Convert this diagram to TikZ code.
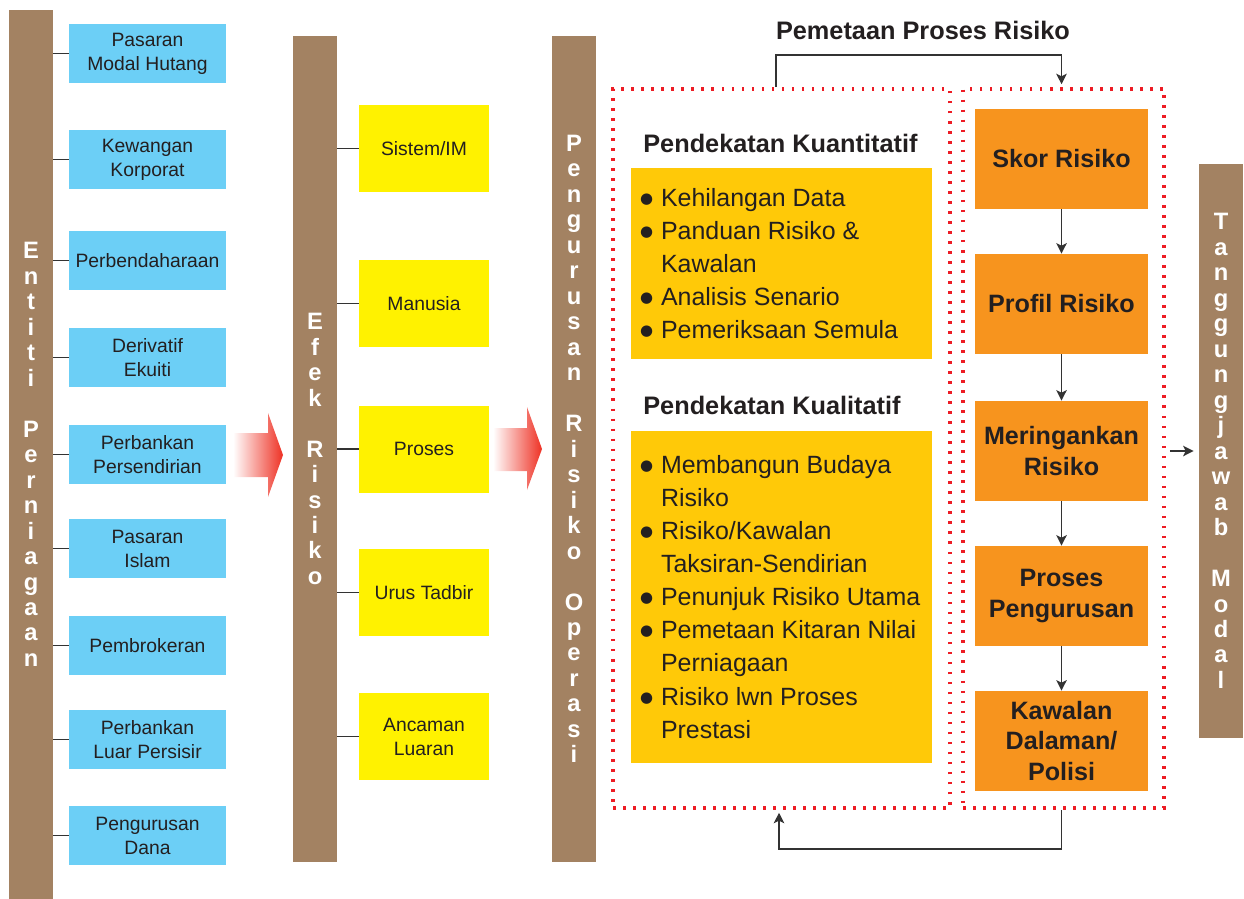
\documentclass[tikz,border=0pt]{standalone}
\usepackage{fontspec}
\setmainfont{Liberation Sans}
\newfontfamily\dotfont{DejaVu Sans}
\usetikzlibrary{calc,arrows.meta}

\definecolor{barbrown}{RGB}{163,130,98}
\definecolor{skyblue}{RGB}{108,207,246}
\definecolor{effyellow}{RGB}{255,242,0}
\definecolor{goldbox}{RGB}{255,201,8}
\definecolor{maporange}{RGB}{247,148,30}
\definecolor{dotred}{RGB}{237,28,36}
\definecolor{arrowred}{RGB}{238,49,36}
\definecolor{inkdark}{RGB}{35,31,32}
\definecolor{linegray}{RGB}{51,51,51}

\newlength{\pxu}\setlength{\pxu}{0.02cm}
\newcommand{\itembul}{\makebox[21\pxu][l]{\raisebox{1.7pt}{\dotfont\fontsize{8.5}{8.5}\selectfont ●}}}
\newcommand{\itemcont}{\hspace*{21\pxu}}

\begin{document}
\begin{tikzpicture}[
  x=\pxu, y=-\pxu,
  every node/.style={inner sep=0pt, text=inkdark},
  pillar/.style={fill=barbrown, minimum width=44\pxu, align=center, text=white,
    font=\fontsize{13.5}{14.5}\selectfont\bfseries},
  unitbox/.style={fill=skyblue, minimum width=157\pxu, minimum height=59\pxu, align=center,
    font=\fontsize{11}{13.6}\selectfont},
  effbox/.style={fill=effyellow, minimum width=130\pxu, minimum height=87\pxu, align=center,
    font=\fontsize{11}{13.6}\selectfont},
  approach/.style={fill=goldbox, minimum width=301\pxu},
  listtext/.style={align=left, font=\fontsize{14.2}{18.8}\selectfont},
  mapbox/.style={fill=maporange, minimum width=173\pxu, minimum height=100\pxu, align=center,
    font=\fontsize{14.3}{17.1}\selectfont\bfseries},
  dotframe/.style={draw=dotred, line width=2pt, dash pattern=on 1.5pt off 4.2pt},
  heading/.style={font=\fontsize{14.4}{17}\selectfont\bfseries},
  tick/.style={draw=linegray, line width=0.6pt},
  flow/.style={draw=linegray, line width=0.8pt, -{Stealth[length=6pt,width=6pt,inset=1.5pt]}}
]
\useasboundingbox (0,0) rectangle (1244,899);

% brown pillars
\node[pillar, minimum height=889\pxu] (entiti) at (31,454.5)
  {E\\n\\t\\i\\t\\i\\[14.5pt]P\\e\\r\\n\\i\\a\\g\\a\\a\\n};
\node[pillar, minimum height=826\pxu] (efek) at (315,449)
  {E\\f\\e\\k\\[14.5pt]R\\i\\s\\i\\k\\o};
\node[pillar, minimum height=826\pxu] (urus) at (574,449)
  {P\\e\\n\\g\\u\\r\\u\\s\\a\\n\\[14.5pt]R\\i\\s\\i\\k\\o\\[14.5pt]O\\p\\e\\r\\a\\s\\i};
\node[pillar, minimum height=574\pxu] (tang) at (1221,451)
  {T\\a\\n\\g\\g\\u\\n\\g\\j\\a\\w\\a\\b\\[14.5pt]M\\o\\d\\a\\l};

% business units
\foreach \yy/\txt [count=\i] in {53.5/{Pasaran\\Modal Hutang}, 159.5/{Kewangan\\Korporat},
    260.5/Perbendaharaan, 357.5/{Derivatif\\Ekuiti}, 454.5/{Perbankan\\Persendirian},
    548.5/{Pasaran\\Islam}, 645.5/Pembrokeran, 739.5/{Perbankan\\Luar Persisir},
    835.5/{Pengurusan\\Dana}}
{
  \node[unitbox] (unit\i) at (147.5,\yy) {\txt};
  \draw[tick] (entiti.east |- unit\i) -- (unit\i.west);
}

% risk effects
\foreach \yy/\txt [count=\i] in {148.5/{Sistem/IM}, 303.5/Manusia, 449/Proses,
    592.5/Urus Tadbir, 736.5/{Ancaman\\Luaran}}
{
  \node[effbox] (eff\i) at (424,\yy) {\txt};
  \draw[tick] (efek.east |- eff\i) -- (eff\i.west);
}

% red block arrows
\shade[left color=white, right color=arrowred]
  (233,433) -- (268,433) -- (268,413) -- (283,455) -- (268,497) -- (268,477) -- (233,477) -- cycle;
\shade[left color=white, right color=arrowred]
  (493,428) -- (527,428) -- (527,407) -- (542,449) -- (527,490) -- (527,471) -- (493,471) -- cycle;

% dotted frames
\node[dotframe, minimum width=337\pxu, minimum height=719\pxu] (qframe) at (781.5,448.5) {};
\node[dotframe, minimum width=201\pxu, minimum height=719\pxu] (mframe) at (1063.5,448.5) {};

% approaches
\node[heading, anchor=west] (quanthead) at (643,143) {Pendekatan Kuantitatif};
\node[approach, minimum height=191\pxu] (quant) at (781.5,263.5) {};
\node[listtext, anchor=west] (quantlist) at ([xshift=9\pxu]quant.west)
  {\itembul Kehilangan Data\\
   \itembul Panduan Risiko \&\\
   \itemcont Kawalan\\
   \itembul Analisis Senario\\
   \itembul Pemeriksaan Semula};

\node[heading, anchor=west] (qualhead) at (643,405) {Pendekatan Kualitatif};
\node[approach, minimum height=332\pxu] (qual) at (781.5,597) {};
\node[listtext, anchor=west] (quallist) at ([xshift=9\pxu]qual.west)
  {\itembul Membangun Budaya\\
   \itemcont Risiko\\
   \itembul Risiko/Kawalan\\
   \itemcont Taksiran-Sendirian\\
   \itembul Penunjuk Risiko Utama\\
   \itembul Pemetaan Kitaran Nilai\\
   \itemcont Perniagaan\\
   \itembul Risiko lwn Proses\\
   \itemcont Prestasi};

% risk process mapping
\node[heading] (maptitle) at (923,30) {Pemetaan Proses Risiko};
\foreach \yy/\txt [count=\i] in {159/Skor Risiko, 304/Profil Risiko, 451/{Meringankan\\Risiko},
    596/{Proses\\Pengurusan}, 741/{Kawalan\\Dalaman/\\Polisi}}
  \node[mapbox] (map\i) at (1061.5,\yy) {\txt};
\foreach \a/\b in {1/2,2/3,3/4,4/5}
  \draw[flow] (map\a) -- (map\b);

% loop round the frames
\coordinate (topbend) at (1061.5,55);
\coordinate (botbend) at (1061.5,849);
\draw[flow] ([xshift=-5.5\pxu]qframe.north) |- (topbend) -- ([yshift=3\pxu]mframe.north -| topbend);
\draw[flow] (mframe.south -| botbend) -- (botbend) -| ([xshift=-2.5\pxu,yshift=-3\pxu]qframe.south);

\draw[flow, shorten <=4\pxu, shorten >=5\pxu] (mframe.east |- map3) -- (tang.west |- map3);
\end{tikzpicture}
\end{document}
